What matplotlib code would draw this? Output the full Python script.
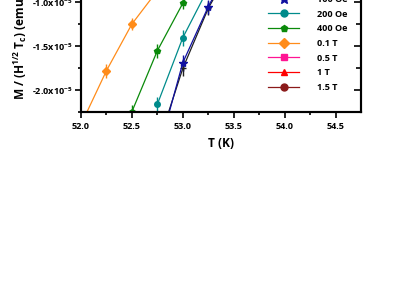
import matplotlib
matplotlib.use("Agg")
import matplotlib.pyplot as plt
from matplotlib.lines import Line2D
import numpy as np

plt.rcParams['font.family'] = ['Open Sans', 'DejaVu Sans']
plt.rcParams['font.weight'] = 'bold'
plt.rcParams['mathtext.fontset'] = 'custom'
plt.rcParams['mathtext.rm'] = 'Open Sans:bold'
plt.rcParams['mathtext.bf'] = 'Open Sans:bold'
plt.rcParams['mathtext.it'] = 'Open Sans:bold'
plt.rcParams['mathtext.default'] = 'bf'

# ---- data (M in units of 1e-5 emu/(Oe^1/2 K)) ----
labels = ['50 Oe', '100 Oe', '200 Oe', '400 Oe', '0.1 T', '0.5 T', '1 T', '1.5 T']
colors = ['#202020', '#1010A0', '#008B8B', '#0A8A0A', '#FF8C1A', '#FF1493', '#FF0000', '#8B1A1A']
markers = ['+', '*', 'o', 'p', 'D', 's', '^', 'o']

T_50 = [52.75, 53.0, 53.25, 53.5]
M_50 = [-2.64, -1.75, -1.068, -0.55]
E_50 = [0.08, 0.09, 0.08, 0.08]

T_100 = [52.75, 53.0, 53.25, 53.5]
M_100 = [-2.74, -1.686, -1.05, -0.50]
E_100 = [0.08, 0.09, 0.08, 0.08]

T_200 = [52.75, 53.0, 53.25]
M_200 = [-2.159, -1.402, -0.84]
E_200 = [0.08, 0.09, 0.08]

T_400 = [52.5, 52.75, 53.0, 53.25]
M_400 = [-2.243, -1.55, -1.011, -0.55]
E_400 = [0.08, 0.08, 0.07, 0.07]

T_01 = [52.0, 52.25, 52.5, 52.75]
M_01 = [-2.39, -1.777, -1.247, -0.868]
E_01 = [0.08, 0.08, 0.07, 0.07]

# 0.5 T, 1 T and 1.5 T lie outside the visible (cropped) window
T_05, M_05, E_05 = [], [], []
T_1, M_1, E_1 = [], [], []
T_15, M_15, E_15 = [], [], []

series = [(T_50, M_50, E_50), (T_100, M_100, E_100), (T_200, M_200, E_200),
          (T_400, M_400, E_400), (T_01, M_01, E_01), (T_05, M_05, E_05),
          (T_1, M_1, E_1), (T_15, M_15, E_15)]

xticks = [52.0, 52.5, 53.0, 53.5, 54.0, 54.5]
yticks = [-2.0, -1.5, -1.0, -0.5]

fig = plt.figure(figsize=(3.96, 2.84), dpi=100)
W, H = 396, 284
ax = fig.add_axes([81 / W, 1 - 112.3 / H, 280 / W, 198 / H])

for (T, M, E), c, m in zip(series, colors, markers):
    if len(T) == 0:
        continue
    M = np.array(M) * 1e-5
    E = np.array(E) * 1e-5
    ms = 6 if m == '*' else 4
    ax.errorbar(T, M, yerr=E, color=c, marker=m, markersize=ms, lw=0.9,
                elinewidth=1.0, capsize=0, mec=c, mew=1.0)

ax.set_xlim(52.0, 54.75)
ax.set_ylim(-2.25e-5, 0)
ax.set_xticks(xticks)
ax.set_xticks(np.arange(52.25, 54.75, 0.5), minor=True)
ax.set_xticklabels([f'{v:.1f}' for v in xticks])
ax.set_yticks([v * 1e-5 for v in yticks])
ax.set_yticks([v * 1e-5 for v in [-2.25, -1.75, -1.25, -0.75, -0.25]], minor=True)
ax.set_yticklabels([f'{v:.1f}x10$^{{-5}}$' for v in yticks])

for s in ax.spines.values():
    s.set_linewidth(1.5)
ax.tick_params(axis='both', which='major', labelsize=6.6, width=1.2, length=4, direction='out', pad=2)
ax.tick_params(axis='both', which='minor', width=1.2, length=2.5, direction='out')
ax.tick_params(axis='x', which='major', pad=3)
ax.tick_params(axis='y', which='both', right=True, labelright=False)

# right side ticks pointing inward: emulate via secondary axis
ax2 = ax.twinx()
ax2.set_ylim(ax.get_ylim())
ax2.set_yticks(ax.get_yticks())
ax2.set_yticks(ax.get_yticks(minor=True), minor=True)
ax2.tick_params(axis='y', which='major', direction='in', length=5, width=1.2, labelright=False)
ax2.tick_params(axis='y', which='minor', direction='in', length=3.5, width=1.2)
ax.tick_params(axis='y', which='both', right=False)
for s in ax2.spines.values():
    s.set_linewidth(1.5)

ax.set_xlabel('T (K)', fontsize=8.6, fontweight='bold', labelpad=4)
fig.text(20 / W, 1 - 100 / H, r'M / (H$^{1/2}$ T$_c$) (emu/(Oe$^{1/2}$ K))', rotation=90,
         ha='center', va='bottom', fontsize=8.6, fontweight='bold')

handles = [Line2D([], [], color=c, marker=m, markersize=(7 if m == '*' else 5), lw=0.9, mec=c)
           for c, m in zip(colors, markers)]
leg = ax.legend(handles, labels, loc='lower left', bbox_to_anchor=(268 / W, 1 - 92 / H),
                bbox_transform=fig.transFigure, frameon=False, fontsize=6.6,
                handlelength=3.4, handletextpad=1.9, labelspacing=0.62,
                borderpad=0, borderaxespad=0)

fig.savefig('out.png', dpi=100)
